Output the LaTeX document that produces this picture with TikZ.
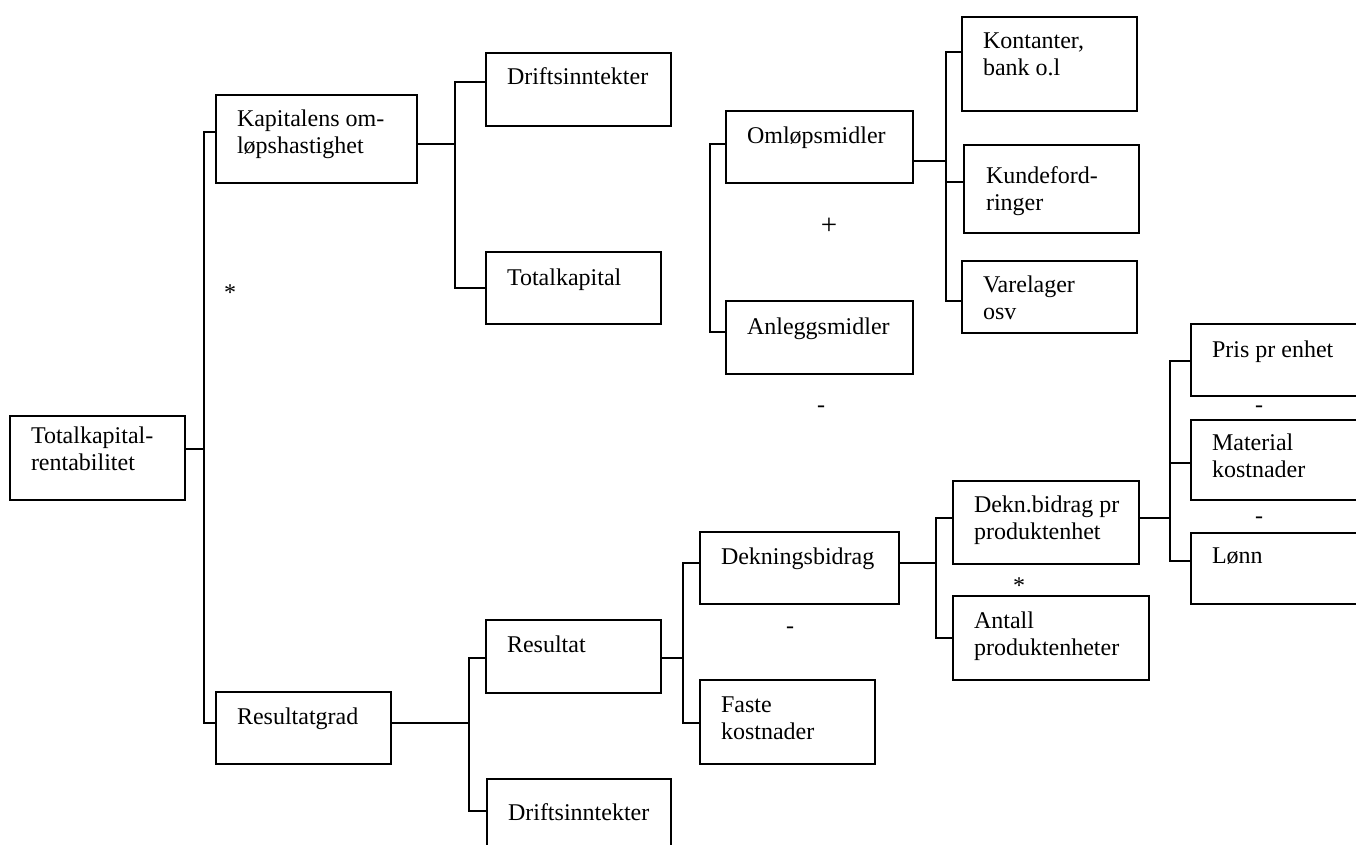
\documentclass[tikz,border=0pt]{standalone}
\usepackage{fontspec}
\setmainfont{Liberation Serif}

\begin{document}
\begin{tikzpicture}[x=1pt, y=-1pt, line width=2pt]
  \tikzset{box/.style = {shape=rectangle, draw, anchor=north west, inner sep=0pt}} % bokser
  \tikzset{txt/.style = {anchor=base west, align=left, inner sep=0pt, font=\fontsize{24pt}{27pt}\selectfont}}
  \tikzset{sign/.style = {inner sep=0pt, font=\fontsize{24pt}{27pt}\selectfont}}

  \useasboundingbox (0,0) rectangle (1356,845);

  % bokser
  \node[box, minimum width=175, minimum height=84] (trent) at (9,415) {};
  \node[box, minimum width=201, minimum height=88] (kapom) at (215,94) {};
  \node[box, minimum width=185, minimum height=73] (drift1) at (485,52) {};
  \node[box, minimum width=175, minimum height=72] (totkap) at (485,251) {};
  \node[box, minimum width=175, minimum height=72] (resgrad) at (215,691) {};
  \node[box, minimum width=175, minimum height=73] (result) at (485,619) {};
  \node[box, minimum width=184, minimum height=90] (drift2) at (486,778) {};
  \node[box, minimum width=187, minimum height=72] (omlop) at (725,110) {};
  \node[box, minimum width=187, minimum height=73] (anlegg) at (725,300) {};
  \node[box, minimum width=175, minimum height=94] (kontant) at (961,16) {};
  \node[box, minimum width=175, minimum height=88] (kunde) at (963,144) {};
  \node[box, minimum width=175, minimum height=72] (vare) at (961,260) {};
  \node[box, minimum width=199, minimum height=72] (dekn) at (699,531) {};
  \node[box, minimum width=175, minimum height=84] (faste) at (699,679) {};
  \node[box, minimum width=186, minimum height=83] (deknpr) at (952,480) {};
  \node[box, minimum width=196, minimum height=84] (antall) at (952,595) {};
  \node[box, minimum width=200, minimum height=72] (pris) at (1190,323) {};
  \node[box, minimum width=200, minimum height=80] (material) at (1190,419) {};
  \node[box, minimum width=200, minimum height=71] (lonn) at (1190,532) {};

  % tekst (grunnlinje = siste linje)
  \node[txt] (trentt) at ([shift={(21,55)}]trent.north west) {Totalkapital-\\rentabilitet};
  \node[txt] (kapomt) at ([shift={(21,60)}]kapom.north west) {Kapitalens om-\\løpshastighet};
  \node[txt] (drift1t) at ([shift={(21,33)}]drift1.north west) {Driftsinntekter};
  \node[txt] (totkapt) at ([shift={(21,34)}]totkap.north west) {Totalkapital};
  \node[txt] (resgradt) at ([shift={(21,33)}]resgrad.north west) {Resultatgrad};
  \node[txt] (resultt) at ([shift={(21,33)}]result.north west) {Resultat};
  \node[txt] (drift2t) at ([shift={(21,42)}]drift2.north west) {Driftsinntekter};
  \node[txt] (omlopt) at ([shift={(21,34)}]omlop.north west) {Omløpsmidler};
  \node[txt] (anleggt) at ([shift={(21,34)}]anlegg.north west) {Anleggsmidler};
  \node[txt] (kontantt) at ([shift={(21,60)}]kontant.north west) {Kontanter,\\bank o.l};
  \node[txt] (kundet) at ([shift={(22,67)}]kunde.north west) {Kundeford-\\ringer};
  \node[txt] (varet) at ([shift={(21,59)}]vare.north west) {Varelager\\osv};
  \node[txt] (deknt) at ([shift={(21,33)}]dekn.north west) {Dekningsbidrag};
  \node[txt] (fastet) at ([shift={(21,60)}]faste.north west) {Faste\\kostnader};
  \node[txt] (deknprt) at ([shift={(21,59)}]deknpr.north west) {Dekn.bidrag pr\\produktenhet};
  \node[txt] (antallt) at ([shift={(21,60)}]antall.north west) {Antall\\produktenheter};
  \node[txt] (prist) at ([shift={(21,34)}]pris.north west) {Pris pr enhet};
  \node[txt] (materialt) at ([shift={(21,58)}]material.north west) {Material\\kostnader};
  \node[txt] (lonnt) at ([shift={(21,31)}]lonn.north west) {Lønn};

  % tegn
  \node[sign] (mul1) at (230,293) {*};
  \node[sign, font=\fontsize{29pt}{30pt}\selectfont] (plus1) at (829,226) {+};
  \node[sign] (min1) at (821,409) {-};
  \node[sign] (min2) at (790,630) {-};
  \node[sign] (min3) at (1259,409) {-};
  \node[sign] (min4) at (1259,520) {-};
  \node[sign] (mul2) at (1019,586) {*};

  % linjer
  \coordinate (bus1) at (204,449);
  \coordinate (bus2) at (455,144);
  \coordinate (bus3) at (710,144);
  \coordinate (bus4) at (946,161);
  \coordinate (bus5) at (469,723);
  \coordinate (bus6) at (683,658);
  \coordinate (bus7) at (936,563);
  \coordinate (bus8) at (1170,518);

  \draw (trent.east |- bus1) -- (bus1);
  \draw (kapom.west |- 0,132) -| (bus1) |- (resgrad.west |- 0,723);

  \draw (kapom.east |- bus2) -- (bus2);
  \draw (drift1.west |- 0,82) -| (bus2) |- (totkap.west |- 0,288);

  \draw (omlop.west |- bus3) -- (bus3) |- (anlegg.west |- 0,332);

  \draw (omlop.east |- bus4) -- (bus4);
  \draw (kontant.west |- 0,52) -| (bus4) |- (vare.west |- 0,301);
  \draw (kunde.west |- 0,182) -- (bus4 |- 0,182);

  \draw (resgrad.east |- bus5) -- (bus5);
  \draw (result.west |- 0,658) -| (bus5) |- (drift2.west |- 0,811);

  \draw (result.east |- bus6) -- (bus6);
  \draw (dekn.west |- 0,563) -| (bus6) |- (faste.west |- 0,723);

  \draw (dekn.east |- bus7) -- (bus7);
  \draw (deknpr.west |- 0,518) -| (bus7) |- (antall.west |- 0,638);

  \draw (deknpr.east |- bus8) -- (bus8);
  \draw (pris.west |- 0,361) -| (bus8) |- (lonn.west |- 0,561);
  \draw (material.west |- 0,463) -- (bus8 |- 0,463);

\end{tikzpicture}
\end{document}
